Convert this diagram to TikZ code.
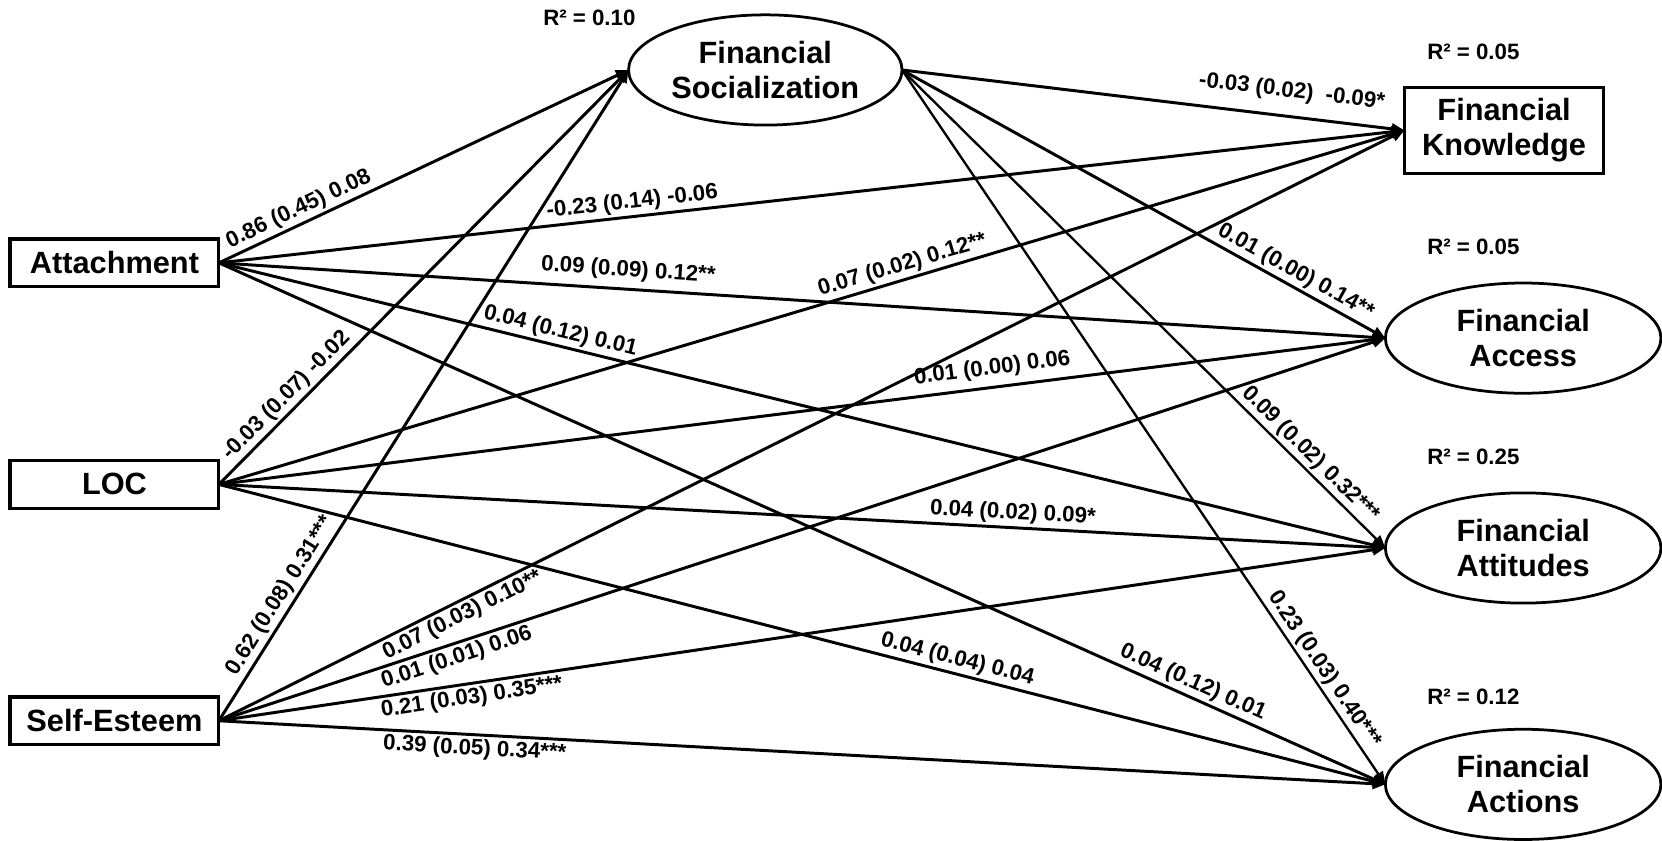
\documentclass[tikz,border=0pt]{standalone}
\usepackage{fontspec}
\setmainfont{Liberation Sans}
\usetikzlibrary{shapes.geometric,arrows.meta}
\begin{document}
\begin{tikzpicture}[x=0.5pt,y=-0.5pt,
  obs/.style={draw,line width=1.5pt,rectangle,inner sep=0pt,outer sep=0pt,
    font=\bfseries\fontsize{14.5}{16.5}\selectfont,align=center},
  lat/.style={draw,line width=1.3pt,ellipse,inner sep=0pt,outer sep=0pt,
    minimum width=130pt,minimum height=52pt},
  ltxt/.style={font=\bfseries\fontsize{14.5}{16.5}\selectfont,align=center,inner sep=0pt},
  lnk/.style={line width=1.4pt,-{Triangle[length=6pt,width=5pt]}},
  lnkfine/.style={line width=1.1pt,-{Triangle[length=6pt,width=5pt]}},
  coef/.style={font=\bfseries\fontsize{10.5}{12}\selectfont,sloped,inner sep=1.2pt},
  rsq/.style={font=\bfseries\fontsize{10.5}{12}\selectfont,inner sep=0pt}
]
\useasboundingbox (0,0) rectangle (1568,793);

% exogenous variables
\node[obs,minimum width=98.5pt,minimum height=22.5pt] (att) at (108,248) {Attachment};
\node[obs,minimum width=98.5pt,minimum height=22.5pt] (loc) at (108,457) {LOC};
\node[obs,minimum width=98.5pt,minimum height=22.5pt] (se)  at (108,680) {Self-Esteem};

% mediator
\node[lat,minimum width=129pt] (fs) at (722,66) {};
\node[ltxt] (fst) at (fs) {Financial\\Socialization};
\node[rsq] (r0) at (556,17) {R² = 0.10};

% outcomes
\node[obs,minimum width=94pt,minimum height=40.5pt] (fk) at (1419,123) {Financial\\Knowledge};
\node[lat] (fac) at (1437,319) {};
\node[ltxt] (fact-t) at (fac) {Financial\\Access};
\node[lat] (fat) at (1437,517) {};
\node[ltxt] (fat-t) at (fat) {Financial\\Attitudes};
\node[lat] (fan) at (1437,740) {};
\node[ltxt] (fan-t) at (fan) {Financial\\Actions};

\node[rsq] (r1) at (1390,49)  {R² = 0.05};
\node[rsq] (r2) at (1390,233) {R² = 0.05};
\node[rsq] (r3) at (1390,431) {R² = 0.25};
\node[rsq] (r4) at (1390,657) {R² = 0.12};

% paths from Attachment
\draw[lnk] (att.east) -- node[coef,above,pos=0.21] (l1) {0.86 (0.45) 0.08} (fs.west);
\draw[lnk] (att.east) -- node[coef,above,pos=0.35] (l2) {-0.23 (0.14) -0.06} (fk.west);
\draw[lnk] (att.east) -- node[coef,above,pos=0.35,yshift=2pt] (l3) {0.09 (0.09) 0.12**} (fac.west);
\draw[lnk] (att.east) -- node[coef,above,pos=0.29] (l4) {0.04 (0.12) 0.01} (fat.west);
\draw[lnk] (att.east) -- node[coef,above,pos=0.83] (l5) {0.04 (0.12) 0.01} (fan.west);

% paths from LOC
\draw[lnk] (loc.east) -- node[coef,above,pos=0.19] (l6) {-0.03 (0.07) -0.02} (fs.west);
\draw[lnk] (loc.east) -- node[coef,above,pos=0.58] (l7) {0.07 (0.02) 0.12**} (fk.west);
\draw[lnk] (loc.east) -- node[coef,above,pos=0.665,yshift=2pt] (l8) {0.01 (0.00) 0.06} (fac.west);
\draw[lnk] (loc.east) -- node[coef,above,pos=0.68] (l9) {0.04 (0.02) 0.09*} (fat.west);
\draw[lnk] (loc.east) -- node[coef,above,pos=0.63] (l10) {0.04 (0.04) 0.04} (fan.west);

% paths from Self-Esteem
\draw[lnk] (se.east) -- node[coef,above,pos=0.18] (l11) {0.62 (0.08) 0.31***} (fs.west);
\draw[lnk] (se.east) -- node[coef,below,pos=0.2] (l12) {0.07 (0.03) 0.10**} (fk.west);
\draw[lnk] (se.east) -- node[coef,below,pos=0.2] (l13) {0.01 (0.01) 0.06} (fac.west);
\draw[lnk] (se.east) -- node[coef,below,pos=0.215] (l14) {0.21 (0.03) 0.35***} (fat.west);
\draw[lnk] (se.east) -- node[coef,below,pos=0.22] (l15) {0.39 (0.05) 0.34***} (fan.west);

% paths from Financial Socialization
\draw[lnk] (fs.east) -- node[coef,above=5pt,pos=0.77] (l16) {-0.03 (0.02)\ \ -0.09*} (fk.west);
\draw[lnk] (fs.east) -- node[coef,above,pos=0.8] (l17) {0.01 (0.00) 0.14**} (fac.west);
\draw[lnkfine] (fs.east) -- node[coef,above,pos=0.825] (l18) {0.09 (0.02) 0.32***} (fat.west);
\draw[lnkfine] (fs.east) -- node[coef,above,pos=0.85] (l19) {0.23 (0.03) 0.40***} (fan.west);
\end{tikzpicture}
\end{document}
